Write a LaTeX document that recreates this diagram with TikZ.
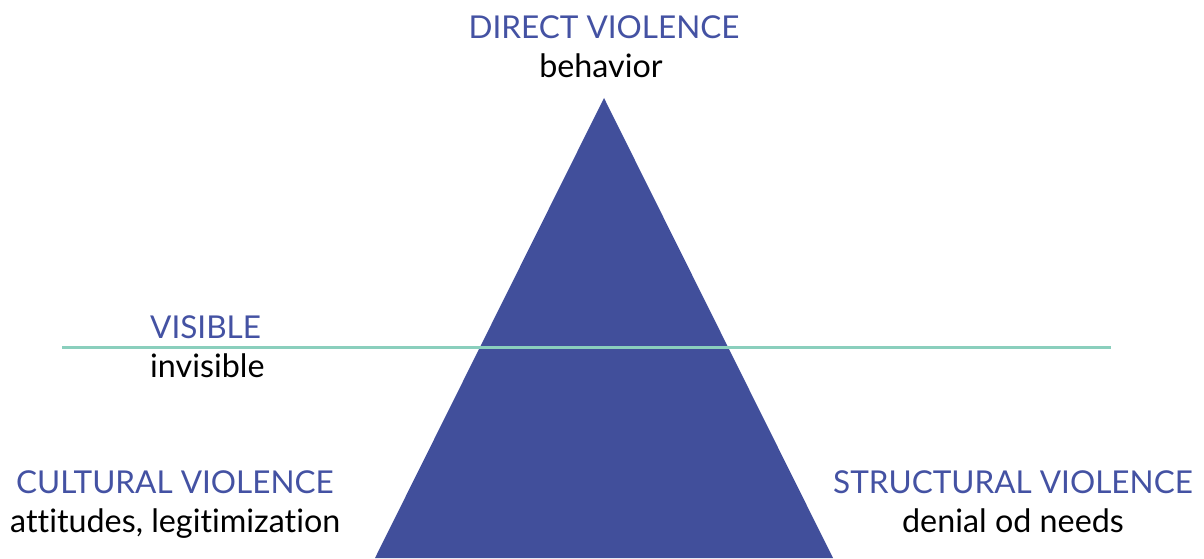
\documentclass[tikz,border=0pt]{standalone}
\usepackage{fontspec}
\setmainfont[Ligatures=NoCommon]{Lato}
\definecolor{pyramidblue}{HTML}{414F9B}
\definecolor{titleblue}{HTML}{4452A3}
\definecolor{divider}{HTML}{8ACFBD}
\begin{document}
\begin{tikzpicture}[x=1pt,y=1pt,
  heading/.style={text=titleblue,inner sep=0pt,font=\fontsize{31.5}{33}\selectfont},
  caption/.style={text=black,inner sep=0pt,font=\fontsize{32.3}{34}\selectfont}]
\useasboundingbox (0,0) rectangle (1204,558);
% pyramid
\coordinate (apex) at (604,460);
\coordinate (bl) at (375,0);
\coordinate (br) at (833,0);
\fill[pyramidblue] (apex) -- (br) -- (bl) -- cycle;
% visible / invisible divider
\coordinate (dl) at (62,211);
\coordinate (dr) at (1111,211);
\draw[divider,line width=3pt] (dl) -- (dr);
% labels
\node[heading,anchor=base] (direct) at (604,519) {DIRECT VIOLENCE};
\node[caption,anchor=base] (behav) at (601,480) {behavior};
\node[heading,anchor=base west] (vis) at (150,220) {VISIBLE};
\node[caption,anchor=base west] (invis) at (150,181) {invisible};
\node[heading,anchor=base west] (cult) at (16,65) {CULTURAL VIOLENCE};
\node[caption,anchor=base west] (att) at (10,26) {attitudes, legitimization};
\node[heading,anchor=base] (struct) at (1013,65) {STRUCTURAL VIOLENCE};
\node[caption,anchor=base] (needs) at (1013,26) {denial od needs};
\end{tikzpicture}
\end{document}
